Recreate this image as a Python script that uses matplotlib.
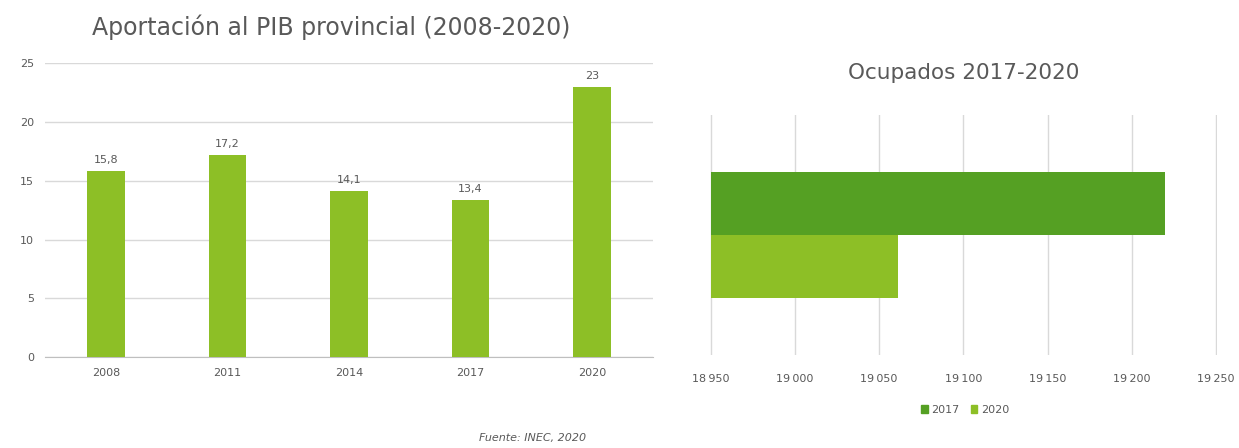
import matplotlib
matplotlib.use("Agg")
import matplotlib.pyplot as plt
from matplotlib.patches import Patch

# left chart: aportación al PIB provincial
years = ["2008", "2011", "2014", "2017", "2020"]
pib = [15.8, 17.2, 14.1, 13.4, 23]
pib_labels = ["15,8", "17,2", "14,1", "13,4", "23"]
pib_ticks = [0, 5, 10, 15, 20, 25]

# right chart: ocupados
ocup_years = ["2017", "2020"]
ocupados = [19220, 19061]
ocup_ticks = [18950, 19000, 19050, 19100, 19150, 19200, 19250]
ocup_ticklabels = ["18\u2009950", "19\u2009000", "19\u2009050", "19\u2009100",
                   "19\u2009150", "19\u2009200", "19\u2009250"]

light_green = "#8dbf26"
dark_green = "#55a023"
grid_c = "#d9d9d9"
text_c = "#595959"

plt.rcParams["font.family"] = "DejaVu Sans"

fig = plt.figure(figsize=(12.39, 4.48), dpi=100)

# ---- left chart
ax1 = fig.add_axes([0.0363, 0.203, 0.4907, 0.656])
x = range(len(years))
bars = ax1.bar(x, pib, width=0.31, color=light_green, zorder=3)
for b, lab in zip(bars, pib_labels):
    ax1.text(b.get_x() + b.get_width() / 2, b.get_height() + 0.5, lab,
             ha="center", va="bottom", fontsize=8, color=text_c)
ax1.set_xlim(-0.5, len(years) - 0.5)
ax1.set_ylim(0, 25)
ax1.set_yticks(pib_ticks)
ax1.set_xticks(list(x))
ax1.set_xticklabels(years)
ax1.yaxis.grid(True, color=grid_c, linewidth=1, zorder=0)
for s in ["top", "right", "left"]:
    ax1.spines[s].set_visible(False)
ax1.spines["bottom"].set_color("#bfbfbf")
ax1.tick_params(length=0, labelsize=8, colors=text_c, pad=8)
ax1.set_title("Aportación al PIB provincial (2008-2020)", fontsize=17,
              color=text_c, pad=20, x=0.47)

# ---- right chart
ax2 = fig.add_axes([0.573, 0.2076, 0.409, 0.536])
pos = [0.26, -0.26]
cols = [dark_green, light_green]
for p, v, c, lab in zip(pos, ocupados, cols, ocup_years):
    ax2.barh(p, v - ocup_ticks[0], left=ocup_ticks[0], height=0.525,
             color=c, label=lab, zorder=3)
ax2.set_xlim(ocup_ticks[0] - 0.5, ocup_ticks[-1] + 0.5)
ax2.set_ylim(-1, 1)
ax2.set_xticks(ocup_ticks)
ax2.set_xticklabels(ocup_ticklabels)
ax2.set_yticks([])
ax2.xaxis.grid(True, color=grid_c, linewidth=1, zorder=0)
for s in ax2.spines.values():
    s.set_visible(False)
ax2.tick_params(length=0, labelsize=8, colors=text_c, pad=14)
ax2.set_title("Ocupados 2017-2020", fontsize=15.5, color=text_c, pad=26)

handles = [Patch(color=dark_green, label="2017"), Patch(color=light_green, label="2020")]
fig.legend(handles=handles, loc="center", bbox_to_anchor=(0.779, 0.085), ncol=2,
           frameon=False, fontsize=8, handlelength=0.6, handleheight=0.8,
           handletextpad=0.3, columnspacing=1.0, labelcolor=text_c)

fig.text(0.43, 0.022, "Fuente: INEC, 2020", ha="center", va="center",
         fontsize=8, style="italic", color=text_c)

fig.savefig("out.png", dpi=100, facecolor="white")
